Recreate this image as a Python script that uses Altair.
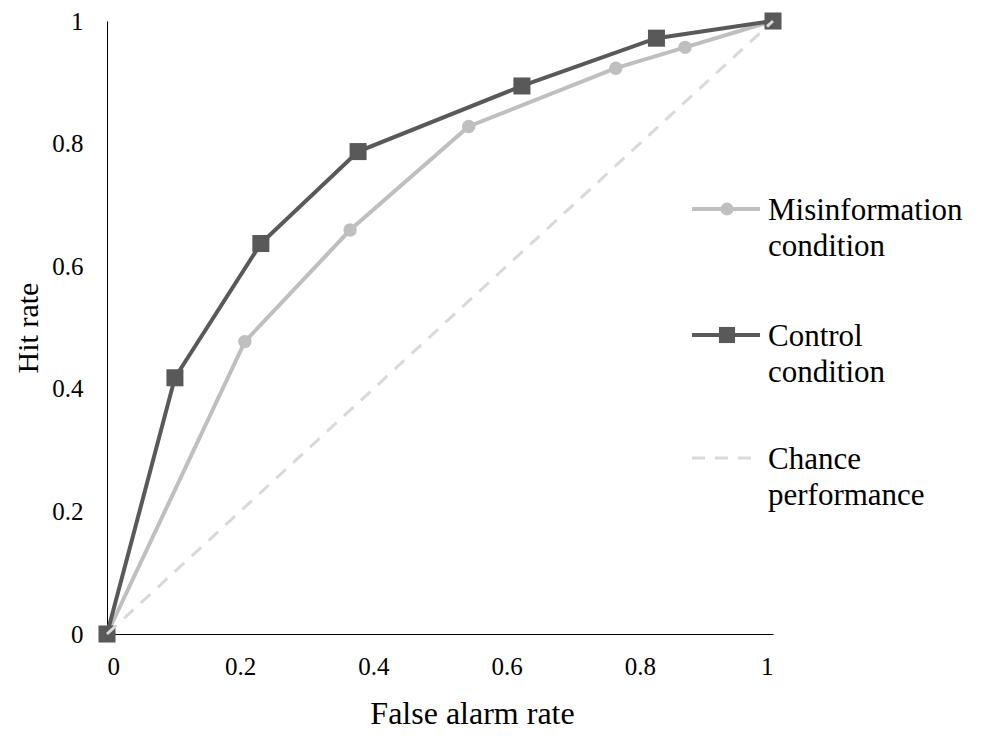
import altair as alt
import pandas as pd

# ROC curves: hit rate against false alarm rate
series_names = ["Misinformation condition", "Control condition", "Chance performance"]
legend_lines = [["Misinformation", "condition"], ["Control", "condition"], ["Chance", "performance"]]

misinfo_far = [0, 0.207, 0.365, 0.543, 0.764, 0.868, 1]
misinfo_hit = [0, 0.477, 0.659, 0.828, 0.923, 0.957, 1]

control_far = [0, 0.102, 0.231, 0.377, 0.623, 0.825, 1]
control_hit = [0, 0.418, 0.637, 0.787, 0.894, 0.972, 1]

chance_far = [0, 1]
chance_hit = [0, 1]

axis_ticks = [0, 0.2, 0.4, 0.6, 0.8, 1]

MIS_COLOR = "#BFBFBF"
CTL_COLOR = "#595959"
CHANCE_COLOR = "#D9D9D9"
FONT = "Tinos, Nimbus Roman, FreeSerif, DejaVu Serif"

W, H = 666, 613

misinfo = pd.DataFrame({"far": misinfo_far, "hit": misinfo_hit})
control = pd.DataFrame({"far": control_far, "hit": control_hit})
chance = pd.DataFrame({"far": chance_far, "hit": chance_hit})

x_enc = alt.X(
    "far:Q",
    scale=alt.Scale(domain=[0, 1], nice=False, zero=False),
    axis=alt.Axis(
        values=axis_ticks, format="~g", title="False alarm rate",
        ticks=False, grid=False, labelPadding=20,
        titleFontSize=32, titleAlign="center", titleX=365,
        titleBaseline="alphabetic", titleY=89,
    ),
)
y_enc = alt.Y(
    "hit:Q",
    scale=alt.Scale(domain=[0, 1], nice=False, zero=False),
    axis=alt.Axis(
        values=axis_ticks, format="~g", title="Hit rate",
        ticks=False, grid=False, labelPadding=24,
        titleFontSize=30,
        titleAngle=-90, titleBaseline="alphabetic", titleAlign="center",
        titleX=-70, titleY=H / 2,
    ),
)

mis_line = alt.Chart(misinfo).mark_line(color=MIS_COLOR, strokeWidth=4).encode(x=x_enc, y=y_enc)
mis_pts = alt.Chart(misinfo).mark_point(
    shape="circle", filled=True, color=MIS_COLOR, size=180, opacity=1
).encode(x="far:Q", y="hit:Q")

ctl_line = alt.Chart(control).mark_line(color=CTL_COLOR, strokeWidth=4).encode(x="far:Q", y="hit:Q")
ctl_pts = alt.Chart(control).mark_point(
    shape="square", filled=True, color=CTL_COLOR, size=290, opacity=1
).encode(x="far:Q", y="hit:Q")

chance_line = alt.Chart(chance).mark_line(
    color=CHANCE_COLOR, strokeWidth=3, strokeDash=[13, 10]
).encode(x="far:Q", y="hit:Q")

# Legend drawn beside the curves: line sample, marker and two-line label per entry
leg_x0, leg_x1, leg_mid, leg_text_x = 585, 653, 620, 661
leg_rows = [188, 314, 437]
leg_base = [199, 325, 448]
leg_colors = [MIS_COLOR, CTL_COLOR, CHANCE_COLOR]
one = pd.DataFrame({"k": [0]})

legend_layers = []
for i, name in enumerate(series_names):
    if i < 2:
        legend_layers.append(
            alt.Chart(one).mark_rule(color=leg_colors[i], strokeWidth=4).encode(
                x=alt.value(leg_x0), x2=alt.value(leg_x1), y=alt.value(leg_rows[i])
            )
        )
        legend_layers.append(
            alt.Chart(one).mark_point(
                shape="circle" if i == 0 else "square", filled=True, opacity=1,
                color=leg_colors[i], size=170 if i == 0 else 260,
            ).encode(x=alt.value(leg_mid), y=alt.value(leg_rows[i]))
        )
    else:
        legend_layers.append(
            alt.Chart(one).mark_rule(
                color=leg_colors[i], strokeWidth=3, strokeDash=[13, 10]
            ).encode(x=alt.value(leg_x0), x2=alt.value(leg_x1), y=alt.value(leg_rows[i]))
        )
    legend_layers.append(
        alt.Chart(one).mark_text(
            text=legend_lines[i], align="left", baseline="alphabetic",
            font=FONT, fontSize=31, lineHeight=35.5, color="black",
        ).encode(x=alt.value(leg_text_x), y=alt.value(leg_base[i]))
    )

chart = alt.layer(
    mis_line, mis_pts, ctl_line, ctl_pts, chance_line, *legend_layers
).properties(
    width=W, height=H,
    padding={"left": 107, "top": 21, "right": 981 - 107 - W, "bottom": 744 - 21 - H},
    autosize=alt.AutoSizeParams(type="none"),
).configure_view(stroke=None).configure_axis(
    domainColor="black", domainWidth=1,
    labelFont=FONT, labelFontSize=25, labelColor="black",
    titleFont=FONT, titleFontWeight="normal", titleColor="black",
)

chart.save("out.html", embed_options={"renderer": "svg", "actions": False})
